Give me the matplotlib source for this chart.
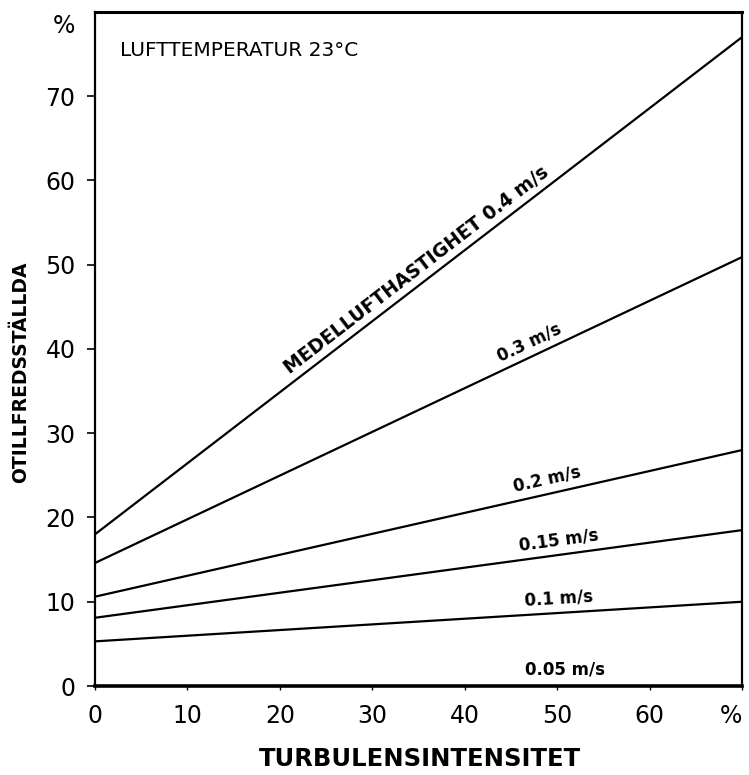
import numpy as np
import matplotlib.pyplot as plt

# Turbulensintensitet (%) - linjerna är raka, läses av vid ändpunkterna
turbulens = [0, 70]

hastigheter = ['0.4', '0.3', '0.2', '0.15', '0.1']
otillfreds = {
    '0.4': [18.0, 77.0],
    '0.3': [14.6, 50.9],
    '0.2': [10.6, 28.0],
    '0.15': [8.1, 18.5],
    '0.1': [5.3, 10.0],
}
etiketter = {
    '0.4': 'MEDELLUFTHASTIGHET 0.4 m/s',
    '0.3': '0.3 m/s',
    '0.2': '0.2 m/s',
    '0.15': '0.15 m/s',
    '0.1': '0.1 m/s',
}
etikett_x = {'0.4': 21.3, '0.3': 44, '0.2': 45.5, '0.15': 46, '0.1': 46.5}

x_ticks = [0, 10, 20, 30, 40, 50, 60, 70]
x_ticklabels = ['0', '10', '20', '30', '40', '50', '60', '%']
y_ticks = [0, 10, 20, 30, 40, 50, 60, 70]

plt.rcParams['font.family'] = ['DejaVu Sans']

fig = plt.figure(figsize=(7.49, 7.75), dpi=100)
ax = fig.add_axes([0.1268, 0.1148, 0.864, 0.870])

for v in hastigheter:
    ax.plot(turbulens, otillfreds[v], color='black', lw=1.6, solid_capstyle='butt')

ax.set_xlim(0, 70)
ax.set_ylim(0, 80)
ax.set_xticks(x_ticks)
ax.set_xticklabels(x_ticklabels)
ax.set_yticks(y_ticks)
ax.tick_params(axis='y', direction='out', length=6, width=1.2, pad=8, labelsize=17)
ax.tick_params(axis='x', direction='out', length=3, width=1.0, pad=10, labelsize=17)
ax.get_xticklabels()[-1].set_horizontalalignment('right')

for side in ['left', 'right']:
    ax.spines[side].set_linewidth(1.6)
ax.spines['top'].set_linewidth(2.2)
ax.spines['bottom'].set_linewidth(2.6)

ax.text(-2.2, 78.3, '%', fontsize=17, ha='right', va='center')
ax.text(2.7, 75.4, 'LUFTTEMPERATUR 23°C', fontsize=14.5, ha='left', va='center')

# etiketter längs linjerna
fig.canvas.draw()
for v in hastigheter:
    y0, y1 = otillfreds[v]
    p0 = ax.transData.transform((turbulens[0], y0))
    p1 = ax.transData.transform((turbulens[1], y1))
    ang = np.degrees(np.arctan2(p1[1] - p0[1], p1[0] - p0[0]))
    xl = etikett_x[v]
    yl = y0 + (y1 - y0) * xl / 70
    fs = 13.5 if v == '0.4' else 12
    ax.annotate(etiketter[v], (xl, yl), xytext=(0, 4), textcoords='offset points',
                rotation=ang, rotation_mode='anchor', ha='left', va='bottom',
                fontsize=fs, fontweight='bold')

ax.text(46.5, 2.0, '0.05 m/s', fontsize=12, fontweight='bold', ha='left', va='center')

fig.text(0.028, 0.52, 'OTILLFREDSSTÄLLDA', rotation=90, fontsize=13.5,
         fontweight='bold', ha='center', va='center')
fig.text(0.56, 0.02, 'TURBULENSINTENSITET', fontsize=17.5, fontweight='bold',
         ha='center', va='center')

plt.savefig('out.png', dpi=100)
plt.close()
